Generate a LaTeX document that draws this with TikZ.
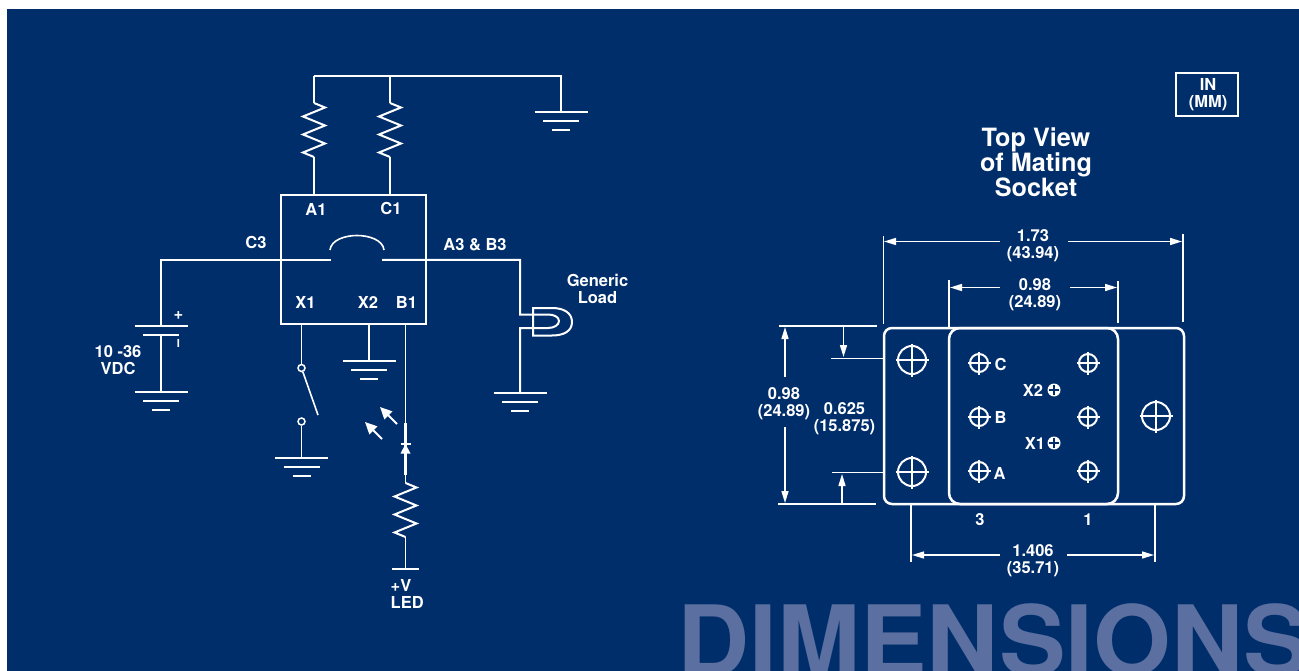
\documentclass[tikz,border=0pt]{standalone}
\usepackage{fontspec}
\setmainfont{TeX Gyre Heros}
\usetikzlibrary{arrows.meta}
\usetikzlibrary{decorations.pathmorphing}
\definecolor{navy}{HTML}{002E6B}
\definecolor{wmark}{HTML}{5B6FA0}
\tikzset{%
    wire/.style={draw=white,line width=2pt},
    thinw/.style={draw=white,line width=1.6pt},
    res/.style={decorate, decoration={zigzag, amplitude=11, segment length=18}},
    dimw/.style={draw=white,line width=1.5pt,-{Triangle[length=12pt,width=7pt]}},
    lbl/.style={text=white,font=\bfseries\fontsize{16.5}{17}\selectfont,align=center,inner sep=0pt},
    term/.style={circle,draw=white,line width=1.5pt,inner sep=0pt,minimum size=7},
    hole/.style={circle,draw=white,line width=2pt,inner sep=0pt}
}
\begin{document}
\begin{tikzpicture}[x=1pt,y=-1pt]
    \useasboundingbox (0,0) rectangle (1299,671);
    \fill[white] (0,0) rectangle (1299,671);
    \fill[navy] (7,9) rectangle (1299,671);
    \begin{scope}
        \clip (7,9) rectangle (1299,671);
        \node[anchor=base west,inner sep=0pt,text=wmark,font=\bfseries\fontsize{97}{97}\selectfont] (wm) at (677,675) {\scalebox{1.03}[1]{DIMENSIONS}};
    \end{scope}

    % schematic
    \node[draw=white,line width=2pt,minimum width=145,minimum height=129,inner sep=0pt] (relay) at (353.5,259.5) {};
    \coordinate (t1) at (314,76);
    \coordinate (t2) at (390,76);
    \coordinate (t3) at (561,76);
    \coordinate (r1t) at (314,103);
    \coordinate (r1b) at (314,157);
    \coordinate (r2t) at (390,103);
    \coordinate (r2b) at (390,157);
    \coordinate (g1) at (561,112);
    \draw[wire] (t1) -- (t3) -- (g1);
    \draw[wire] (t1) -- (r1t);
    \draw[wire] (t2) -- (r2t);
    \draw[wire,res] (r1t) -- (r1b);
    \draw[wire,res] (r2t) -- (r2b);
    \draw[wire] (r1b) -- (r1b |- relay.north);
    \draw[wire] (r2b) -- (r2b |- relay.north);

    \coordinate (c3) at (331,260);
    \coordinate (c3l) at (161,260);
    \coordinate (bp) at (161,325.5);
    \coordinate (bn) at (161,334.5);
    \coordinate (g2) at (161,392);
    \coordinate (b3) at (382,260);
    \coordinate (b3r) at (520,260);
    \draw[wire] (c3) -- (c3l) -- (bp);
    \draw[wire] (bn) -- (g2);
    \draw[wire] ([xshift=-26.5pt]bp) -- ([xshift=26.5pt]bp);
    \draw[wire] ([xshift=-18pt]bn) -- ([xshift=18pt]bn);
    \draw[thinw] (330,250) .. controls (331,240) and (345,235.5) .. (357,235.5) .. controls (369,235.5) and (383,240) .. (384,250);

    % load
    \coordinate (lt) at (520,314.5);
    \coordinate (lb) at (520,328);
    \coordinate (g3) at (520,393);
    \draw[wire] (b3) -- (b3r) -- (lt) -- (533,314.5) -- (548,314.5) .. controls (554,314.5) and (559,317) .. (559,321) .. controls (559,325) and (554,328) .. (548,328) -- (lb) -- (g3);
    \draw[wire] (552,308) -- (533,308) -- (533,335.5) -- (552,335.5) .. controls (564,335.5) and (572,331) .. (572,322) .. controls (572,313) and (564,308) .. (552,308);

    % switch
    \coordinate (x1) at (301.5,324);
    \coordinate (x2) at (369,324);
    \coordinate (b1) at (405.5,324);
    \node[term] (s1) at (301.5,368) {};
    \node[term] (s2) at (301.5,421.5) {};
    \coordinate (sw) at (318,415);
    \coordinate (g4) at (301.5,457.5);
    \coordinate (g5) at (369,360.5);
    \draw[thinw] (x1) -- (s1);
    \draw[thinw] (s1) -- (sw);
    \draw[thinw] (s2) -- (g4);
    \draw[thinw] (x2) -- (g5);

    % led
    \coordinate (d1) at (405.5,423);
    \coordinate (d2) at (405.5,475);
    \coordinate (r3t) at (405.5,483);
    \coordinate (r3b) at (405.5,537);
    \coordinate (vl) at (405.5,569);
    \draw[thinw] (b1) -- (d1);
    \draw[line width=2.6pt,draw=white] (d1) -- (d2);
    \draw[thinw] (d2) -- (r3t);
    \draw[wire,res] (r3t) -- (r3b);
    \draw[thinw] (r3b) -- (vl);
    \draw[wire] ([xshift=-13.5pt]vl) -- ([xshift=13.5pt]vl);
    \draw[wire] (400.5,444) -- (410.5,444);
    \fill[white] (405.5,444) -- (410.5,453.5) -- (400.5,453.5) -- cycle;
    \coordinate (a1s) at (397,424);
    \coordinate (a1e) at (380,407);
    \coordinate (a2s) at (382,439);
    \coordinate (a2e) at (365,422);
    \draw[draw=white,line width=2pt,-{Triangle[length=12pt,width=11pt]}] (a1s) -- (a1e);
    \draw[draw=white,line width=2pt,-{Triangle[length=12pt,width=11pt]}] (a2s) -- (a2e);

    % grounds
    \foreach \g in {g1,g2,g3,g4,g5}{
        \draw[wire] ([xshift=-26.5pt]\g) -- ([xshift=26.5pt]\g);
        \draw[wire] ([xshift=-18pt,yshift=-9pt]\g) -- ([xshift=18pt,yshift=-9pt]\g);
        \draw[wire] ([xshift=-9pt,yshift=-18pt]\g) -- ([xshift=9pt,yshift=-18pt]\g);
    }

    \node[lbl] (la1) at (316,209) {A1};
    \node[lbl] (lc1) at (391,208) {C1};
    \node[lbl] (lc3) at (256,242) {C3};
    \node[lbl] (la3) at (475,244.5) {A3 \& B3};
    \node[lbl] (lx1) at (305.5,302) {X1};
    \node[lbl] (lx2) at (368,302) {X2};
    \node[lbl] (lb1) at (406.5,302) {B1};
    \node[lbl] (lload) at (597.5,288.5) {Generic\\Load};
    \node[lbl] (lvdc) at (118,360) {10 -36\\VDC};
    \node[lbl,align=left,anchor=west] (lled) at (390.5,594) {+V\\LED};
    \node[lbl] (lplus) at (178.5,316) {+};
    \node[lbl,font=\bfseries\fontsize{11}{12}\selectfont] (lminus) at (178.5,343) {I};

    % socket
    \draw[wire,line width=2.5pt,rounded corners=8] (884,328) rectangle (1184,504);
    \draw[wire,line width=2.5pt,rounded corners=11] (949,328) rectangle (1118,504);
    \foreach \n/\x/\y/\s in {h1/912/360/28,h2/912/472/28,h3/1156/416/28,p1/979/363/18,p2/979/417/18,p3/979/471/18,p4/1088/363/18,p5/1088/417/18,p6/1088/471/18}{
        \node[hole,minimum size=\s] (\n) at (\x,\y) {};
        \draw[thinw] ([yshift=1.5pt]\n.north) -- ([yshift=-1.5pt]\n.south);
        \draw[thinw] ([xshift=-1.5pt]\n.west) -- ([xshift=1.5pt]\n.east);
    }
    \foreach \n/\x/\y in {px2/1054/390,px1/1054/443}{
        \node[circle,fill=white,inner sep=0pt,minimum size=13] (\n) at (\x,\y) {};
        \draw[navy,line width=1.2pt] ([yshift=-2pt]\n.north) -- ([yshift=2pt]\n.south);
        \draw[navy,line width=1.2pt] ([xshift=2pt]\n.west) -- ([xshift=-2pt]\n.east);
    }
    \node[lbl] (lc) at (1000.5,364) {C};
    \node[lbl] (lb) at (1000.5,417) {B};
    \node[lbl] (la) at (999.5,473) {A};
    \node[lbl] (lpx2) at (1033,390) {X2};
    \node[lbl] (lpx1) at (1035,443) {X1};
    \node[lbl] (l3) at (980,519.5) {3};
    \node[lbl] (l1) at (1088,519.5) {1};

    \node[lbl,font=\bfseries\fontsize{25.2}{25}\selectfont] (title) at (1036,162) {Top View\\of Mating\\Socket};
    \node[draw=white,line width=2pt,minimum width=62,minimum height=43,inner sep=0pt] (unitbox) at (1207,94.5) {};
    \node[lbl] (units) at (1208,94.5) {IN\\(MM)};

    % dimensions
    \foreach \n/\x/\y in {e1a/883.5/236,e1b/883.5/324,e2a/1183/234,e2b/1183/322,e3a/949/280,e3b/949/327,e4a/1118/281,e4b/1118/323,
        e5a/779/326,e5b/877/326,e6a/778/504,e6b/876/504,e7a/831/358.5,e7b/884/358.5,e8a/832/472.5,e8b/884/472.5,
        e9a/911/505,e9b/911/562,e10a/1155/505,e10b/1155/562}{
        \coordinate (\n) at (\x,\y);
    }
    \foreach \n in {1,...,10}{
        \draw[thinw] (e\n a) -- (e\n b);
    }
    \node[lbl] (d173) at (1033,245.5) {1.73\\(43.94)};
    \node[lbl] (d098) at (1035,294.5) {0.98\\(24.89)};
    \node[lbl] (dv098) at (784,404) {0.98\\(24.89)};
    \node[lbl] (d625) at (844.5,418.5) {0.625\\(15.875)};
    \node[lbl] (d1406) at (1033,560.5) {1.406\\(35.71)};
    \foreach \n/\x/\y/\tx/\ty in {q1/1000/241.5/884/241.5,q2/1068/241.5/1182/241.5,q3/1000/287.5/950/287.5,q4/1070/287.5/1117/287.5,
        q5/785/377/785/327,q6/785/427/785/503,q7/843.5/327/843.5/357,q8/842/503/842/474,q9/1000/555/912/555,q10/1067/555/1154/555}{
        \coordinate (\n s) at (\x,\y);
        \coordinate (\n e) at (\tx,\ty);
        \draw[dimw] (\n s) -- (\n e);
    }
\end{tikzpicture}
\end{document}
